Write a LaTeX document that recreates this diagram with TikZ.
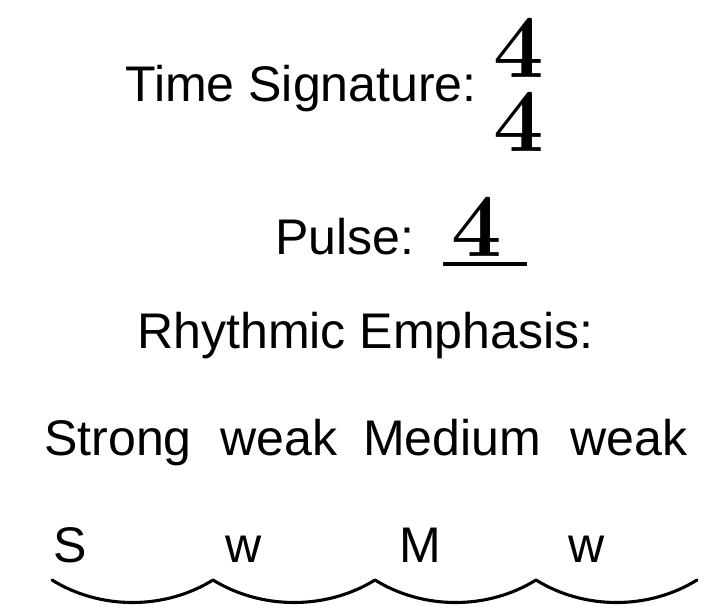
\documentclass[tikz,border=0pt]{standalone}
\usepackage{fontspec}
\setsansfont{Liberation Sans}
\usepackage{tikz}
\usetikzlibrary{positioning, calc}

\begin{document}
\begin{tikzpicture}[
  x=0.025cm, y=-0.025cm,
  font=\sffamily\fontsize{35.6}{40}\selectfont,
  word/.style={anchor=base west, inner sep=0pt},
  numeral/.style={anchor=base, inner sep=0pt,
    font=\rmfamily\bfseries\fontsize{64}{66}\selectfont},
  wave/.style={line width=2.2pt, line cap=round}
]
  \useasboundingbox (0,0) rectangle (728,616);

  % time signature
  \node[word] (ts) at (125,102) {Time Signature:};
  \node[numeral] (top) at (519,78) {4};
  \node[numeral] (bot) at (519,152) {4};

  % pulse
  \node[word] (pulse) at (275,255) {Pulse:};
  \node[numeral] (pnum) at (477,257) {4};
  \coordinate (ul) at (443,264);
  \coordinate (ur) at (527,264);
  \draw[line width=2.2pt] (ul) -- (ur);

  % emphasis
  \node[word] (emph) at (137,348) {Rhythmic Emphasis:};
  \node[word] (e1) at (44,455) {Strong};
  \node[word] (e2) at (220,455) {weak};
  \node[word] (e3) at (363,455) {Medium};
  \node[word] (e4) at (570,455) {weak};

  \node[word] (s1) at (53,562) {S};
  \node[word] (s2) at (225,562) {w};
  \node[word] (s3) at (399,562) {M};
  \node[word] (s4) at (568,562) {w};

  % wavy beat line
  \coordinate (c0) at (52,580);
  \coordinate (c1) at (213,580);
  \coordinate (c2) at (375,580);
  \coordinate (c3) at (536,580);
  \coordinate (c4) at (697,580);
  \foreach \a/\b in {c0/c1, c1/c2, c2/c3, c3/c4}
    \draw[wave] (\a) .. controls ($(\a)!0.3!(\b)+(0,30)$)
      and ($(\a)!0.7!(\b)+(0,30)$) .. (\b);
\end{tikzpicture}
\end{document}
